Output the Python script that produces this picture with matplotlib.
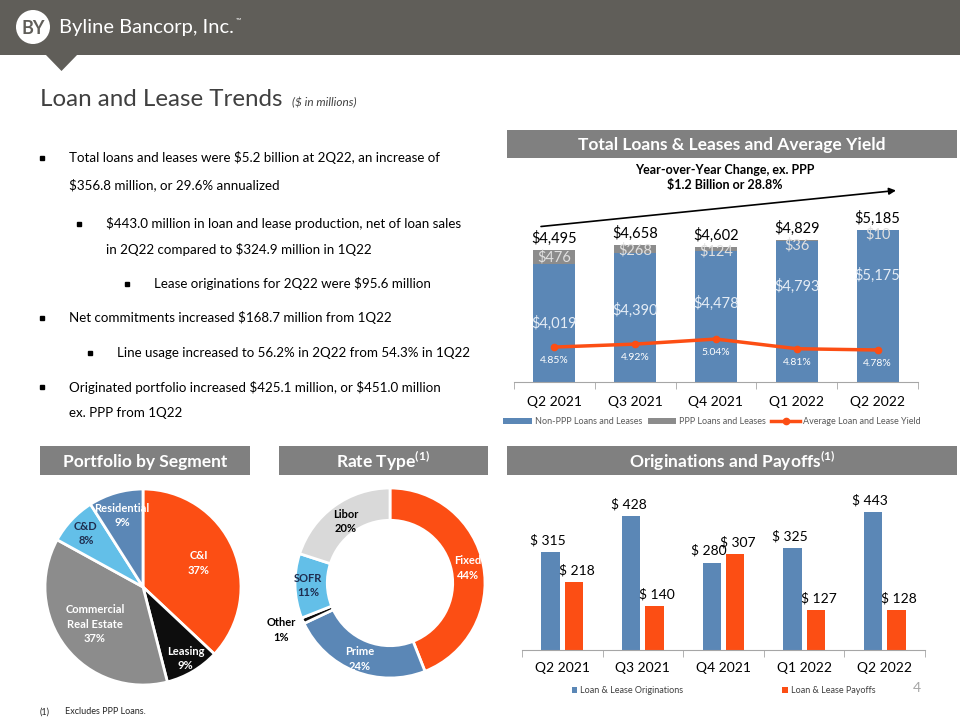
import matplotlib
matplotlib.use('Agg')
import matplotlib.pyplot as plt
import numpy as np
from matplotlib.patches import Rectangle, Polygon, Circle

plt.rcParams['font.family'] = ['Lato', 'DejaVu Sans']
plt.rcParams['mathtext.fontset'] = 'custom'
plt.rcParams['mathtext.rm'] = 'Lato'
plt.rcParams['mathtext.bf'] = 'Lato:bold'

# data
quarters = ['Q2 2021', 'Q3 2021', 'Q4 2021', 'Q1 2022', 'Q2 2022']
non_ppp = [4019, 4390, 4478, 4793, 5175]
ppp = [476, 268, 124, 36, 10]
totals = [4495, 4658, 4602, 4829, 5185]
avg_yield = [4.85, 4.92, 5.04, 4.81, 4.78]

originations = [315, 428, 280, 325, 443]
payoffs = [218, 140, 307, 127, 128]

segment_labels = ['C&I', 'Leasing', 'Commercial\nReal Estate', 'C&D', 'Residential']
segment_pct = [37, 9, 37, 8, 9]

rate_labels = ['Fixed', 'Prime', 'Other', 'SOFR', 'Libor']
rate_pct = [44, 24, 1, 11, 20]

bullets = [
    (0, 'Total loans and leases were $5.2 billion at 2Q22, an increase of', 158),
    (None, '$356.8 million, or 29.6% annualized', 185),
    (1, '$443.0 million in loan and lease production, net of loan sales', 224),
    (None, 'in 2Q22 compared to $324.9 million in 1Q22', 249),
    (2, 'Lease originations for 2Q22 were $95.6 million', 284),
    (0, 'Net commitments increased $168.7 million from 1Q22', 318),
    (3, 'Line usage increased to 56.2% in 2Q22 from 54.3% in 1Q22', 353),
    (0, 'Originated portfolio increased $425.1 million, or $451.0 million', 387),
    (None, 'ex. PPP from 1Q22', 413),
]

# colours
ORANGE = '#FC4E14'
BLUE = '#5B87B6'
GRAY = '#8C8C8C'
LIGHTBLUE = '#63BFE8'
LIGHTGRAY = '#D9D9D9'
BAND = '#605E59'
BOX = '#808080'
NAVY = '#1F2D4F'

fig = plt.figure(figsize=(9.6, 7.2), dpi=100)
W, H = 960, 720


def px_axes(x, y, w, h):
    return fig.add_axes([x / W, 1 - (y + h) / H, w / W, h / H])


# overlay in pixel coordinates
ov = px_axes(0, 0, W, H)
ov.set_xlim(0, W)
ov.set_ylim(H, 0)
ov.axis('off')

ov.add_patch(Rectangle((0, 0), W, 55, color=BAND, lw=0))
ov.add_patch(Polygon([(45, 54), (78, 54), (61.5, 71)], closed=True, color=BAND, lw=0))
ov.add_patch(Circle((33, 27), 17, color='white', lw=0))
ov.text(33, 28, 'BY', color=BAND, fontsize=13, fontweight='bold', ha='center', va='center')
ov.text(59, 28, 'Byline Bancorp, Inc.', color='white', fontsize=14.5, ha='left', va='center')
ov.text(236, 20, '™', color='white', fontsize=5, ha='left', va='center')

ov.text(40, 106, 'Loan and Lease Trends', color='#404040', fontsize=17.4, ha='left', va='baseline')
ov.text(292, 106, '($ in millions)', color='#404040', fontsize=8.5, style='italic',
        ha='left', va='baseline', parse_math=False)

bullet_x = {0: 42, 1: 79, 2: 127, 3: 90}
text_x = {0: 69, 1: 106, 2: 154, 3: 117}
prev = 0
for level, txt, y in bullets:
    if level is not None:
        prev = level
        ov.plot(bullet_x[level], y, marker='s', ms=3.3, color='black')
    ov.text(text_x[prev], y, txt, fontsize=9.6, color='black', ha='left', va='center',
            parse_math=False)

# section header boxes
boxes = [
    (507, 130, 450, 28, 'Total Loans & Leases and Average Yield'),
    (40, 446, 210, 29, 'Portfolio by Segment'),
    (279, 446, 209, 29, r'Rate Type$^{\mathbf{(1)}}$'),
    (507, 446, 450, 29, r'Originations and Payoffs$^{\mathbf{(1)}}$'),
]
for bx, by, bw, bh, label in boxes:
    ov.add_patch(Rectangle((bx, by), bw, bh, color=BOX, lw=0))
    ov.text(bx + bw / 2, by + bh / 2 + 1, label, color='white', fontsize=12.5,
            fontweight='bold', ha='center', va='center')

ov.text(725, 170, 'Year-over-Year Change, ex. PPP', fontsize=9, fontweight='bold',
        ha='center', va='center')
ov.text(725, 185, '$1.2 Billion or 28.8%', fontsize=9, fontweight='bold',
        ha='center', va='center', parse_math=False)
ov.annotate('', xy=(896, 190.5), xytext=(541, 226.5),
            arrowprops=dict(arrowstyle='-|>', color='black', lw=1.2, mutation_scale=10,
                            shrinkA=0, shrinkB=0))

ov.text(40, 712, '(1)', fontsize=6.5, color='#262626', va='center')
ov.text(65, 712, 'Excludes PPP Loans.', fontsize=6.5, color='#262626', va='center')
ov.text(917, 688, '4', fontsize=10, color='#A6A6A6', ha='center', va='center')

# ---- total loans & leases ----
x = np.arange(len(quarters))
ax1 = px_axes(514, 200, 404, 182)
ax1.patch.set_alpha(0)
b1 = ax1.bar(x, non_ppp, width=0.52, color=BLUE, zorder=2)
b2 = ax1.bar(x, ppp, bottom=non_ppp, width=0.52, color=GRAY, zorder=2)
ax1.set_xlim(-0.5, 4.5)
ax1.set_ylim(0, 6206)
for s in ['top', 'right', 'left']:
    ax1.spines[s].set_visible(False)
ax1.spines['bottom'].set_color('#A6A6A6')
ax1.set_yticks([])
ax1.set_xticks(x)
ax1.set_xticklabels(quarters, fontsize=10)
ax1.tick_params(axis='x', which='major', length=0, pad=10)
ax1.set_xticks(np.arange(-0.5, 5, 1), minor=True)
ax1.tick_params(axis='x', which='minor', length=5, color='#A6A6A6')

label_frac = [0.5, 0.56, 0.60, 0.68, 0.70]
for i in range(len(quarters)):
    ax1.text(x[i], non_ppp[i] * label_frac[i], f'${non_ppp[i]:,}', color='#E4ECF5',
             fontsize=10.5, ha='center', va='center', zorder=3)
    ax1.text(x[i], min(non_ppp[i] + ppp[i] / 2, totals[i] - 160), f'${ppp[i]:,}',
             color='#E0E0E0', fontsize=10.5, ha='center', va='center', zorder=3)
    ax1.annotate(f'${totals[i]:,}', (x[i], totals[i]), xytext=(0, 3),
                 textcoords='offset points', ha='center', va='bottom', fontsize=10.5)

ax1b = ax1.twinx()
ax1b.set_ylim(4.02, 8.343)
ln, = ax1b.plot(x, avg_yield, color=ORANGE, lw=2.5, marker='o', ms=4.5, zorder=4)
ax1b.axis('off')
for i, v in enumerate(avg_yield):
    ax1b.annotate(f'{v:.2f}%', (x[i], v), xytext=(0, -10), textcoords='offset points',
                  ha='center', va='center', fontsize=7.5, color='white')

ax1.legend([b1, b2, ln], ['Non-PPP Loans and Leases', 'PPP Loans and Leases',
                          'Average Loan and Lease Yield'],
           loc='center', bbox_to_anchor=(0.49, -0.218), ncol=3, frameon=False,
           fontsize=6.5, handlelength=3.2, handleheight=0.5, columnspacing=0.6,
           handletextpad=0.3, labelcolor='#595959')

# ---- originations and payoffs ----
ax2 = px_axes(522, 480, 403, 170)
ax2.patch.set_alpha(0)
bo = ax2.bar(x - 0.145, originations, width=0.23, color=BLUE)
bp = ax2.bar(x + 0.145, payoffs, width=0.23, color=ORANGE)
ax2.set_xlim(-0.5, 4.5)
ax2.set_ylim(0, 544)
for s in ['top', 'right', 'left']:
    ax2.spines[s].set_visible(False)
ax2.spines['bottom'].set_color('#A6A6A6')
ax2.set_yticks([])
ax2.set_xticks(x)
ax2.set_xticklabels(quarters, fontsize=10)
ax2.tick_params(axis='x', which='major', length=0, pad=9)
ax2.set_xticks(np.arange(-0.5, 5, 1), minor=True)
ax2.tick_params(axis='x', which='minor', length=5, color='#A6A6A6')
for i in range(len(quarters)):
    ax2.annotate(f'$ {originations[i]}', (x[i] - 0.145, originations[i]), xytext=(-2, 4),
                 textcoords='offset points', ha='center', va='bottom', fontsize=10)
    ax2.annotate(f'$ {payoffs[i]}', (x[i] + 0.145, payoffs[i]), xytext=(2, 4),
                 textcoords='offset points', ha='center', va='bottom', fontsize=10)
ax2.legend([bo, bp], ['Loan & Lease Originations', 'Loan & Lease Payoffs'],
           loc='center', bbox_to_anchor=(0.5, -0.24), ncol=2, frameon=False,
           fontsize=6.5, handlelength=0.6, handleheight=0.6, columnspacing=11,
           handletextpad=0.3, labelcolor='#404040')

# ---- portfolio by segment ----
axp = px_axes(45, 489, 196, 196)
seg_colors = [ORANGE, '#0D0D0D', GRAY, LIGHTBLUE, BLUE]
seg_text = ['white', 'white', 'white', NAVY, 'white']
seg_dist = [0.62, 0.85, 0.62, 0.8, 0.76]
wedges, _ = axp.pie(segment_pct, colors=seg_colors, startangle=90, counterclock=False,
                    wedgeprops=dict(edgecolor='white', linewidth=2))
axp.set_xlim(-1, 1)
axp.set_ylim(-1, 1)
for w, lab, p, c, d in zip(wedges, segment_labels, segment_pct, seg_text, seg_dist):
    ang = np.deg2rad((w.theta1 + w.theta2) / 2)
    axp.text(d * np.cos(ang), d * np.sin(ang), f'{lab}\n{p}%', color=c, fontsize=8,
             fontweight='bold', ha='center', va='center', linespacing=1.4)

# ---- rate type ----
axr = px_axes(295, 488, 190, 190)
rate_colors = [ORANGE, BLUE, '#0D0D0D', LIGHTBLUE, LIGHTGRAY]
rate_text = ['white', 'white', 'black', NAVY, 'black']
rate_dist = [0.83, 0.86, 1.25, 0.86, 0.8]
wedges, _ = axr.pie(rate_pct, colors=rate_colors, startangle=90, counterclock=False,
                    wedgeprops=dict(width=0.34, edgecolor='white', linewidth=2))
axr.set_xlim(-1, 1)
axr.set_ylim(-1, 1)
for w, lab, p, c, d in zip(wedges, rate_labels, rate_pct, rate_text, rate_dist):
    ang = np.deg2rad((w.theta1 + w.theta2) / 2)
    axr.text(d * np.cos(ang), d * np.sin(ang), f'{lab}\n{p}%', color=c, fontsize=8,
             fontweight='bold', ha='center', va='center', linespacing=1.4, clip_on=False)

fig.savefig('out.png', dpi=100)
